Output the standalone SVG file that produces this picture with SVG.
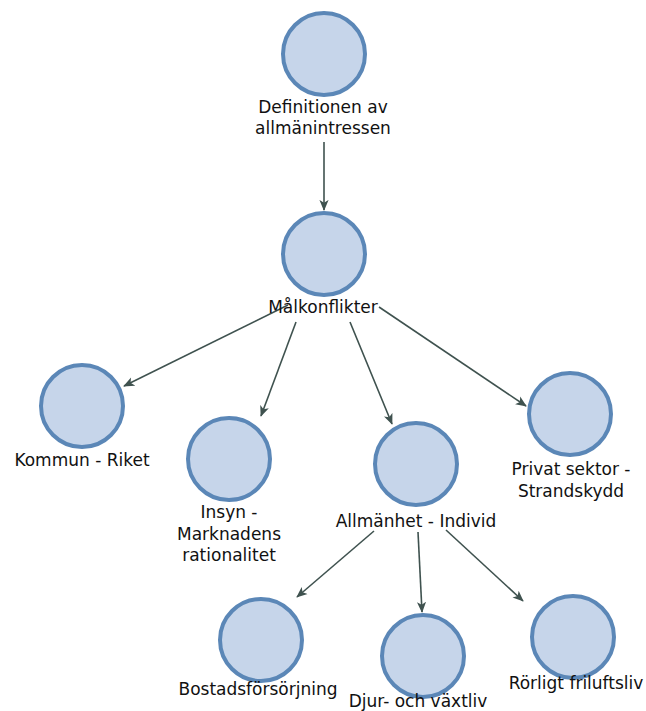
<svg xmlns="http://www.w3.org/2000/svg" width="646" height="711" viewBox="0 0 646 711">
<style>
.n circle{fill:#c6d5ea;stroke:#5b87b7;stroke-width:4}
text{font-family:"DejaVu Sans","Liberation Sans",sans-serif;font-size:17px;fill:#111111;text-anchor:middle}
#edges line{stroke:#3f524f;stroke-width:1.6;marker-end:url(#ah)}
</style>
<defs>
<marker id="ah" viewBox="0 0 12 10" refX="11" refY="5" markerWidth="11" markerHeight="10" markerUnits="userSpaceOnUse" orient="auto">
<path d="M0,0 L12,5 L0,10 L3,5 z" fill="#3f524f"/>
</marker>
</defs>
<rect width="646" height="711" fill="#ffffff"/>
<g id="edges">
<line x1="324" y1="142" x2="324" y2="210"/>
<line x1="288" y1="305" x2="124" y2="386"/>
<line x1="296" y1="322" x2="261" y2="416"/>
<line x1="350" y1="322" x2="392" y2="424"/>
<line x1="379" y1="307" x2="526" y2="406"/>
<line x1="374" y1="531" x2="297" y2="597"/>
<line x1="418" y1="532" x2="422" y2="612"/>
<line x1="446" y1="530" x2="523" y2="601"/>
</g>
<g id="n1" class="n"><circle cx="324" cy="54" r="41"/><text x="323" y="113">Definitionen av</text><text x="323" y="134">allmänintressen</text></g>
<g id="n2" class="n"><circle cx="324" cy="254" r="41"/><text x="323" y="313">Målkonflikter</text></g>
<g id="n3" class="n"><circle cx="82" cy="406" r="41"/><text x="82" y="466">Kommun - Riket</text></g>
<g id="n4" class="n"><circle cx="229" cy="459" r="41"/><text x="229" y="518">Insyn -</text><text x="229" y="540">Marknadens</text><text x="229" y="561">rationalitet</text></g>
<g id="n5" class="n"><circle cx="416" cy="464" r="41"/><text x="416" y="527">Allmänhet - Individ</text></g>
<g id="n6" class="n"><circle cx="570" cy="414" r="41"/><text x="571" y="475">Privat sektor -</text><text x="571" y="497">Strandskydd</text></g>
<g id="n7" class="n"><circle cx="261" cy="640" r="41"/><text x="258" y="695">Bostadsförsörjning</text></g>
<g id="n8" class="n"><circle cx="423" cy="656" r="41"/><text x="418" y="707">Djur- och växtliv</text></g>
<g id="n9" class="n"><circle cx="573" cy="637" r="41"/><text x="576" y="689">Rörligt friluftsliv</text></g>
</svg>
